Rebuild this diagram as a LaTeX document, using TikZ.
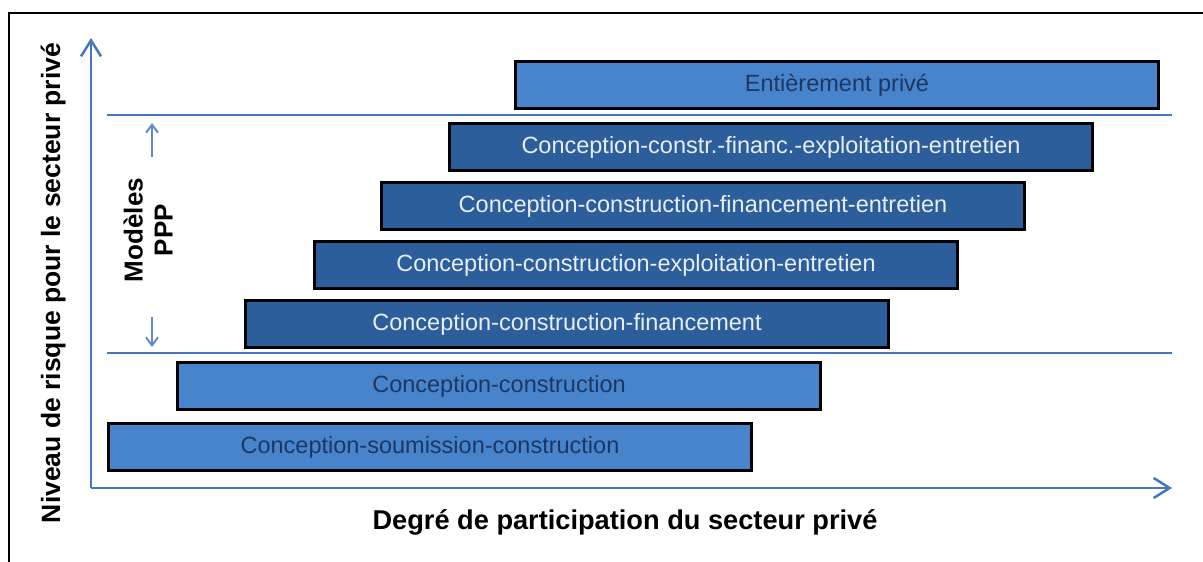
\documentclass[tikz,border=0pt]{standalone}
\usepackage{fontspec}
\setmainfont{Liberation Sans}
\usepackage{xcolor}
\usetikzlibrary{arrows.meta,positioning}

\definecolor{axisblue}{HTML}{4677BE}
\definecolor{lightbox}{HTML}{4884CC}
\definecolor{darkbox}{HTML}{2C5E9C}
\definecolor{navytext}{HTML}{1C3764}
\definecolor{palefont}{HTML}{E8EEF5}

\begin{document}
\begin{tikzpicture}[
    x=1pt, y=-1pt,
    model/.style={rectangle, draw=black, line width=3pt, minimum width=643pt, minimum height=47pt, inner sep=0pt, font=\fontsize{23.5}{28}\selectfont},
    classic/.style={model, fill=lightbox, text=navytext},
    ppp/.style={model, fill=darkbox, text=palefont},
    axis/.style={-{Straight Barb[length=16pt,width=20pt]}, axisblue, line width=2.5pt},
    separator/.style={axisblue, line width=2.5pt},
    pparrow/.style={-{Straight Barb[length=8pt,width=12pt]}, axisblue!85, line width=2pt},
    axislabel/.style={font=\fontsize{26.5}{30}\selectfont\bfseries, inner sep=0pt}
]
\useasboundingbox (0,0) rectangle (1203,562);

% Frame
\draw[black, line width=2pt] (9,575) -- (9,13) -- (1215,13);

% Axes
\coordinate (origin) at (91,488);
\coordinate (ytip) at (91,38);
\coordinate (xtip) at (1172,488);
\draw[axis] (origin) -- (ytip);
\draw[axis] (origin) -- (xtip);

% Axis labels
\node[axislabel, font=\fontsize{27.2}{30}\selectfont\bfseries, anchor=base] (xlabel) at (625,529) {Degré de participation du secteur privé};
\node[axislabel, anchor=base, rotate=90] (ylabel) at (60,283) {Niveau de risque pour le secteur privé};

% Delivery models, from least to most private
\node[classic] (dbb) at (430,447) {Conception-soumission-construction};
\node[classic] (db) at (499,386) {Conception-construction};
\node[ppp] (dbf) at (567,324) {Conception-construction-financement};
\node[ppp] (dbom) at (636,265) {Conception-construction-exploitation-entretien};
\node[ppp] (dbfm) at (703,206) {Conception-construction-financement-entretien};
\node[ppp] (dbfom) at (771,147) {Conception-constr.-financ.-exploitation-entretien};
\node[classic] (private) at (837,85) {Entièrement privé};

% PPP band limits
\coordinate (topsep-l) at (107,115);
\coordinate (topsep-r) at (1172,115);
\coordinate (lowsep-l) at (107,353);
\coordinate (lowsep-r) at (1172,353);
\draw[separator] (topsep-l) -- (topsep-r);
\draw[separator] (lowsep-l) -- (lowsep-r);

% PPP band label
\node[font=\fontsize{26}{30}\selectfont\bfseries, align=center, rotate=90, inner sep=0pt] (pppmodels) at (148,230) {Modèles\\PPP};
\coordinate (uptail) at (152,157);
\coordinate (uptip) at (152,123);
\coordinate (downtail) at (152,317);
\coordinate (downtip) at (152,347);
\draw[pparrow] (uptail) -- (uptip);
\draw[pparrow] (downtail) -- (downtip);

\end{tikzpicture}
\end{document}
